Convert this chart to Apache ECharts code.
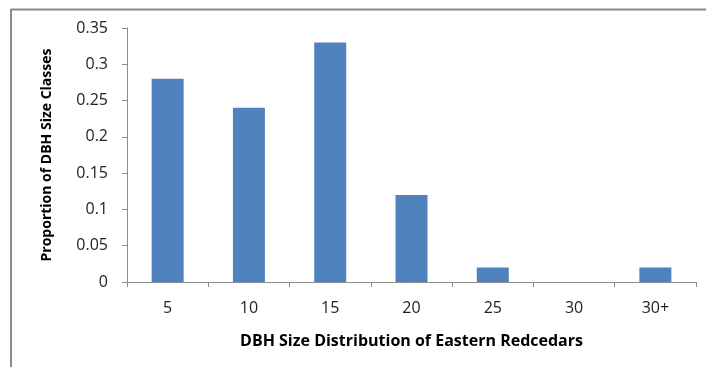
<!DOCTYPE html>
<html>
<head>
<meta charset="utf-8">
<script src="https://cdn.jsdelivr.net/npm/echarts@6/dist/echarts.min.js"></script>
<style>
  html, body { margin: 0; padding: 0; background: #fff; }
  #chart { width: 706px; height: 367px; }
</style>
</head>
<body>
<div id="chart"></div>
<script>
// DBH size classes (cm) and the proportion of trees in each
const sizeClasses = ['5', '10', '15', '20', '25', '30', '30+'];
const proportions = [0.28, 0.24, 0.33, 0.12, 0.02, 0, 0.02];

const xTitle = 'DBH Size Distribution of Eastern Redcedars';
const yTitle = 'Proportion of DBH Size Classes';

const FONT = '"Open Sans", sans-serif';
const AXIS_GREY = '#8c8c8c';

const chart = echarts.init(document.getElementById('chart'));
chart.setOption({
  animation: false,
  backgroundColor: '#fff',
  grid: { left: 127, right: 10, top: 28, bottom: 85, containLabel: false },
  graphic: [
    // frame lines along the top and left edge
    { type: 'line', shape: { x1: 11, y1: 9.5, x2: 706, y2: 9.5 }, style: { stroke: '#8a8a8a', lineWidth: 2 } },
    { type: 'line', shape: { x1: 11, y1: 9, x2: 11, y2: 367 }, style: { stroke: '#8a8a8a', lineWidth: 2 } }
  ],
  xAxis: {
    type: 'category',
    data: sizeClasses,
    name: xTitle,
    nameLocation: 'middle',
    nameGap: 51,
    nameTextStyle: { fontFamily: FONT, fontWeight: 'bold', fontSize: 16, color: '#000' },
    axisLine: { lineStyle: { color: AXIS_GREY, width: 1 } },
    axisTick: { show: true, length: 5, lineStyle: { color: AXIS_GREY } },
    axisLabel: { margin: 18, fontFamily: FONT, fontSize: 16, color: '#222' }
  },
  yAxis: {
    type: 'value',
    min: 0,
    max: 0.35,
    interval: 0.05,
    name: yTitle,
    nameLocation: 'middle',
    nameGap: 73,
    nameTextStyle: { fontFamily: FONT, fontWeight: 'bold', fontSize: 14, color: '#000' },
    axisLine: { show: true, lineStyle: { color: AXIS_GREY, width: 1 } },
    axisTick: { show: true, length: 5, lineStyle: { color: AXIS_GREY } },
    splitLine: { show: false },
    axisLabel: {
      margin: 19, fontFamily: FONT, fontSize: 16, color: '#222',
      formatter: v => String(+v.toFixed(2))
    }
  },
  series: [{
    type: 'bar',
    data: proportions,
    barWidth: 32,
    itemStyle: { color: '#4f81bd' }
  }]
});
</script>
</body>
</html>
